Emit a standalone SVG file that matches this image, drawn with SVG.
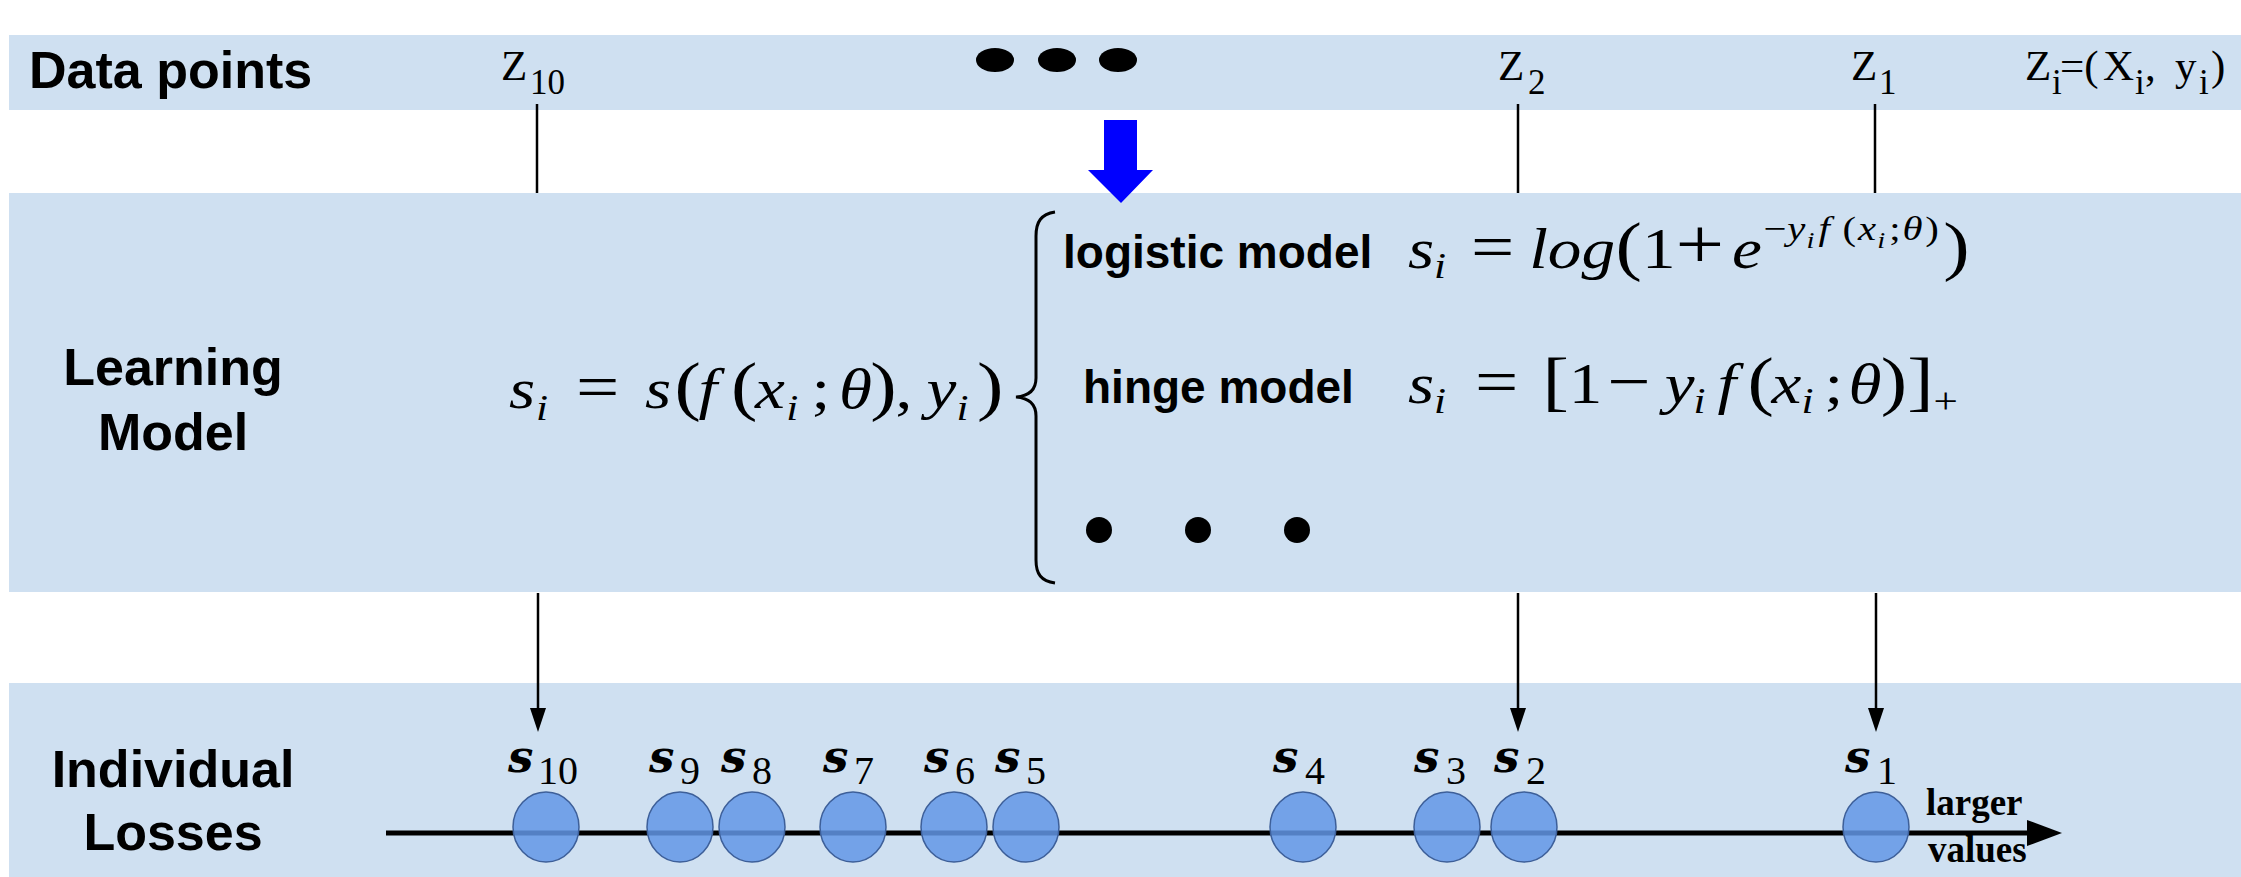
<svg xmlns="http://www.w3.org/2000/svg" width="2241" height="877" viewBox="0 0 2241 877">
  <defs>
    <style>
      .band { fill: #cfe0f1; }
      .lbl { font-family: "Liberation Sans", Arial, sans-serif; font-weight: bold; font-size: 52px; fill: #000; }
      .mdl { font-family: "Liberation Sans", Arial, sans-serif; font-weight: bold; font-size: 46px; fill: #000; }
      .zt { font-family: "Liberation Serif", "Times New Roman", serif; font-size: 43px; fill: #000; }
      .zs { font-family: "Liberation Serif", "Times New Roman", serif; font-size: 35px; fill: #000; }
      .m { font-family: "Liberation Serif", "Times New Roman", serif; font-size: 56px; fill: #000; }
      .mi { font-style: italic; }
      .op { font-size: 64px; }
      .opl { font-size: 72px; }
      .pr { font-size: 66px; }
      .sub { font-size: 36px; }
      .sup { font-size: 34px; }
      .ss { font-size: 24px; }
      .sl { font-family: "DejaVu Serif", "Liberation Serif", serif; font-weight: bold; font-style: italic; font-size: 45px; fill: #000; }
      .sd { font-family: "Liberation Serif", "Times New Roman", serif; font-size: 40px; fill: #000; }
      .note { font-family: "Liberation Serif", "Times New Roman", serif; font-weight: bold; font-size: 37px; fill: #000; }
      .conn { stroke: #000; stroke-width: 2.5; fill: none; }
      .loss { fill: #6397e6; fill-opacity: 0.85; stroke: #3d5f99; stroke-width: 1.5; }
      .dot { fill: #000; }
    </style>
    <marker id="ah" markerUnits="userSpaceOnUse" markerWidth="24" markerHeight="16" refX="12" refY="8" orient="auto">
      <path d="M0,0 L24,8 L0,16 z" fill="#000"/>
    </marker>
  </defs>

  <rect width="2241" height="877" fill="#fff"/>

  <!-- Data points row -->
  <g id="data-points">
    <rect class="band" x="9" y="35" width="2232" height="75"/>
    <text class="lbl" x="29" y="88">Data points</text>
    <text class="zt" x="501" y="80">Z</text><text class="zs" x="530" y="94">10</text>
    <ellipse class="dot" cx="995" cy="60" rx="19" ry="12"/>
    <ellipse class="dot" cx="1057" cy="60" rx="19" ry="12"/>
    <ellipse class="dot" cx="1118" cy="60" rx="19" ry="12"/>
    <text class="zt" x="1498" y="80">Z</text><text class="zs" x="1528" y="94">2</text>
    <text class="zt" x="1851" y="80">Z</text><text class="zs" x="1879" y="94">1</text>
    <text class="zt" x="2025" y="80">Z</text><text class="zs" x="2052" y="94">i</text>
    <text class="zt" x="2060" y="80">=(</text>
    <text class="zt" x="2103" y="80">X</text><text class="zs" x="2135" y="94">i</text>
    <text class="zt" x="2145" y="80">,</text>
    <text class="zt" x="2175" y="80">y</text><text class="zs" x="2199" y="94">i</text>
    <text class="zt" x="2211" y="80">)</text>
  </g>

  <!-- Learning model row -->
  <g id="learning-model">
    <rect class="band" x="9" y="193" width="2232" height="399"/>
    <text class="lbl" x="173" y="385" text-anchor="middle">Learning</text>
    <text class="lbl" x="173" y="450" text-anchor="middle">Model</text>

    <!-- s_i = s(f(x_i;θ), y_i), widened to a math-font proportion -->
    <g transform="translate(509 0) scale(1.2 1)">
      <text class="m" y="408">
        <tspan class="mi" x="0">s</tspan>
        <tspan class="mi sub" x="22.5" y="420">i</tspan>
        <tspan class="op" x="55.8" y="408">=</tspan>
        <tspan class="mi" x="113.3">s</tspan>
        <tspan class="pr" x="138">(</tspan>
        <tspan class="mi" x="158">f</tspan>
        <tspan class="pr" x="185">(</tspan>
        <tspan class="mi" x="205">x</tspan>
        <tspan class="mi sub" x="231" y="420">i</tspan>
        <tspan x="252" y="408">;</tspan>
        <tspan class="mi" x="275">θ</tspan>
        <tspan class="pr" x="301">)</tspan>
        <tspan x="322">,</tspan>
        <tspan class="mi" x="348">y</tspan>
        <tspan class="mi sub" x="373" y="420">i</tspan>
        <tspan class="pr" x="390" y="408">)</tspan>
      </text>
    </g>

    <path d="M1055,212 C1041,214 1036,222 1036,236 L1036,378 C1036,390 1029,396 1016,397 C1029,398 1036,404 1036,416 L1036,560 C1036,574 1041,581 1055,583" stroke="#000" stroke-width="3" fill="none"/>

    <text class="mdl" x="1063" y="268">logistic model</text>
    <!-- s_i = log(1 + e^{-y_i f(x_i;θ)}) -->
    <g transform="translate(1408 0) scale(1.2 1)">
      <text class="m" y="268">
        <tspan class="mi" x="0">s</tspan>
        <tspan class="mi sub" x="21.7" y="278">i</tspan>
        <tspan class="op" x="52.5" y="268">=</tspan>
        <tspan class="mi" x="101">log</tspan>
        <tspan class="pr" x="173">(</tspan>
        <tspan x="195">1</tspan>
        <tspan class="opl" x="223">+</tspan>
        <tspan class="mi" x="270">e</tspan>
        <tspan class="sup" x="296" y="240">−</tspan>
        <tspan class="mi sup" x="316">y</tspan>
        <tspan class="mi ss" x="332" y="248">i</tspan>
        <tspan class="mi sup" x="342" y="240">f</tspan>
        <tspan class="sup" x="362">(</tspan>
        <tspan class="mi sup" x="375">x</tspan>
        <tspan class="mi ss" x="391" y="248">i</tspan>
        <tspan class="sup" x="401" y="240">;</tspan>
        <tspan class="mi sup" x="412">θ</tspan>
        <tspan class="sup" x="431">)</tspan>
        <tspan class="pr" x="446" y="268">)</tspan>
      </text>
    </g>

    <text class="mdl" x="1083" y="403">hinge model</text>
    <!-- s_i = [1 - y_i f(x_i;θ)]_+ -->
    <g transform="translate(1408 0) scale(1.2 1)">
      <text class="m" y="403">
        <tspan class="mi" x="0">s</tspan>
        <tspan class="mi sub" x="21.7" y="413">i</tspan>
        <tspan class="op" x="55.8" y="403">=</tspan>
        <tspan class="pr" x="112">[</tspan>
        <tspan x="134">1</tspan>
        <tspan class="op" x="166">−</tspan>
        <tspan class="mi" x="214">y</tspan>
        <tspan class="mi sub" x="238" y="413">i</tspan>
        <tspan class="mi" x="258" y="403">f</tspan>
        <tspan class="pr" x="283">(</tspan>
        <tspan class="mi" x="303">x</tspan>
        <tspan class="mi sub" x="328" y="413">i</tspan>
        <tspan x="347" y="403">;</tspan>
        <tspan class="mi" x="367">θ</tspan>
        <tspan class="pr" x="394">)</tspan>
        <tspan class="pr" x="416">]</tspan>
        <tspan class="sub" x="438" y="413">+</tspan>
      </text>
    </g>

    <circle class="dot" cx="1099" cy="530" r="13"/>
    <circle class="dot" cx="1198" cy="530" r="13"/>
    <circle class="dot" cx="1297" cy="530" r="13"/>
  </g>

  <!-- Individual losses row -->
  <g id="individual-losses">
    <rect class="band" x="9" y="683" width="2232" height="194"/>
    <text class="lbl" x="173" y="787" text-anchor="middle">Individual</text>
    <text class="lbl" x="173" y="850" text-anchor="middle">Losses</text>

    <line x1="386" y1="833" x2="2030" y2="833" stroke="#000" stroke-width="5"/>
    <polygon points="2027,820 2062,833 2027,846" fill="#000"/>

    <ellipse class="loss" cx="546" cy="827" rx="33" ry="35"/>
    <ellipse class="loss" cx="680" cy="827" rx="33" ry="35"/>
    <ellipse class="loss" cx="752" cy="827" rx="33" ry="35"/>
    <ellipse class="loss" cx="853" cy="827" rx="33" ry="35"/>
    <ellipse class="loss" cx="954" cy="827" rx="33" ry="35"/>
    <ellipse class="loss" cx="1026" cy="827" rx="33" ry="35"/>
    <ellipse class="loss" cx="1303" cy="827" rx="33" ry="35"/>
    <ellipse class="loss" cx="1447" cy="827" rx="33" ry="35"/>
    <ellipse class="loss" cx="1524" cy="827" rx="33" ry="35"/>
    <ellipse class="loss" cx="1876" cy="827" rx="33" ry="35"/>

    <text class="sl" x="508" y="772">s</text><text class="sd" x="538" y="784">10</text>
    <text class="sl" x="649" y="772">s</text><text class="sd" x="680" y="784">9</text>
    <text class="sl" x="721" y="772">s</text><text class="sd" x="752" y="784">8</text>
    <text class="sl" x="823" y="772">s</text><text class="sd" x="854" y="784">7</text>
    <text class="sl" x="924" y="772">s</text><text class="sd" x="955" y="784">6</text>
    <text class="sl" x="995" y="772">s</text><text class="sd" x="1026" y="784">5</text>
    <text class="sl" x="1273" y="772">s</text><text class="sd" x="1305" y="784">4</text>
    <text class="sl" x="1414" y="772">s</text><text class="sd" x="1446" y="784">3</text>
    <text class="sl" x="1494" y="772">s</text><text class="sd" x="1526" y="784">2</text>
    <text class="sl" x="1845" y="772">s</text><text class="sd" x="1877" y="784">1</text>

    <text class="note" x="1926" y="815">larger</text>
    <text class="note" x="1928" y="862">values</text>
  </g>

  <!-- Connectors -->
  <g id="connectors">
    <polygon points="1104,120 1137,120 1137,170 1153,170 1121,203 1088,170 1104,170" fill="#0000ff"/>
    <line class="conn" x1="537" y1="104" x2="537" y2="193"/>
    <line class="conn" x1="1518" y1="104" x2="1518" y2="193"/>
    <line class="conn" x1="1875" y1="104" x2="1875" y2="193"/>
    <line class="conn" x1="538" y1="593" x2="538" y2="720" marker-end="url(#ah)"/>
    <line class="conn" x1="1518" y1="593" x2="1518" y2="720" marker-end="url(#ah)"/>
    <line class="conn" x1="1876" y1="593" x2="1876" y2="720" marker-end="url(#ah)"/>
  </g>
</svg>
